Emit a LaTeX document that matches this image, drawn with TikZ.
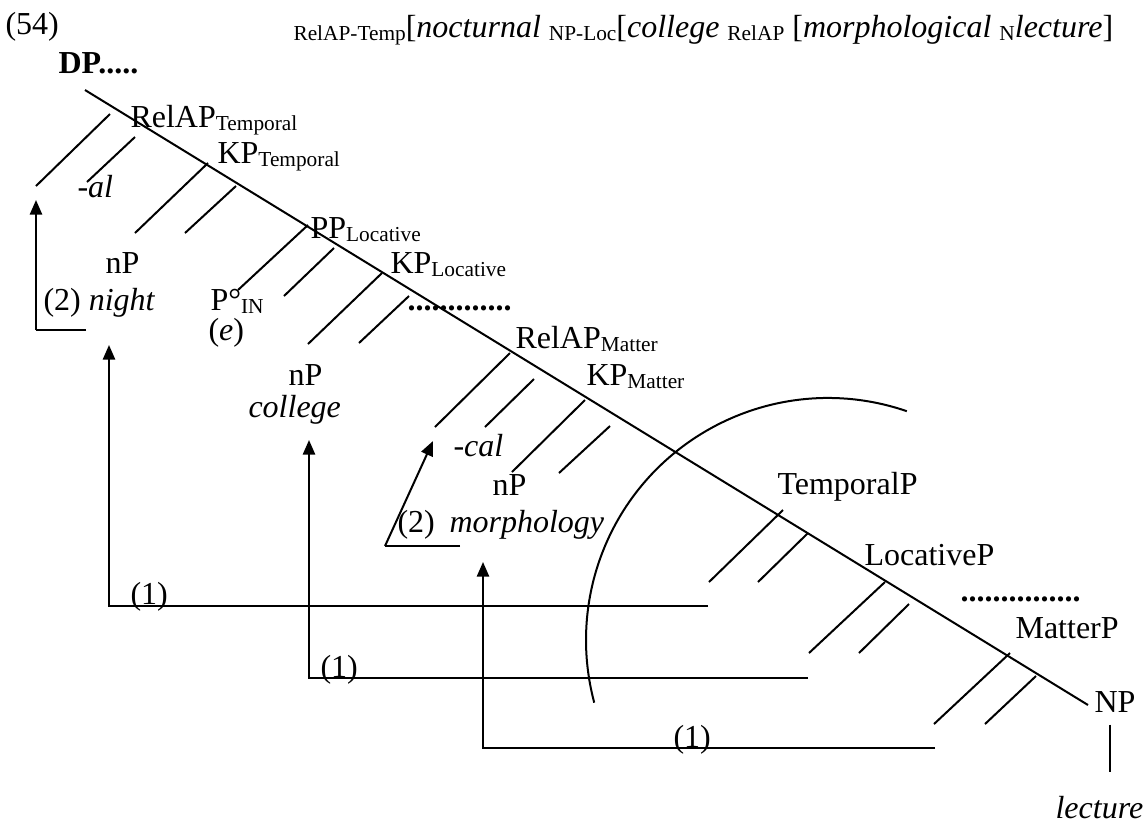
\documentclass[tikz,border=0pt]{standalone}
\usepackage{fontspec}
\setmainfont{Liberation Serif}
\usetikzlibrary{arrows.meta}
\newcommand{\sbs}[1]{\raisebox{-1.2pt}{\fontsize{8}{9}\selectfont #1}}
\begin{document}
\begin{tikzpicture}[x=0.375pt,y=-0.375pt,
  lbl/.style={anchor=base west, inner sep=0pt, font=\fontsize{12}{14}\selectfont},
  ln/.style={line width=0.75pt},
  arr/.style={line width=0.75pt,-{Triangle[length=5.5pt,width=4.6pt]}}]
\useasboundingbox (0,0) rectangle (1143,827);
% header
\node[lbl] (ex) at (5,34) {(54)};
\node[lbl] (gloss) at (293,37) {\sbs{RelAP-Temp}[\textit{nocturnal} \sbs{NP-Loc}[\textit{college} \sbs{RelAP} [\textit{morphological} \sbs{N}\textit{lecture}]};
\node[lbl,font=\fontsize{12}{14}\selectfont\bfseries] (dp) at (58,73) {DP.....};
% spine
\coordinate (s0) at (85,90);
\coordinate (s1) at (1088,705);
\draw[ln] (s0) -- (s1);
% labels along the spine
\node[lbl] (relapt) at (130,127) {RelAP\sbs{Temporal}};
\node[lbl] (kpt) at (217,163) {KP\sbs{Temporal}};
\node[lbl] (ppl) at (310,238) {PP\sbs{Locative}};
\node[lbl] (kpl) at (390,273) {KP\sbs{Locative}};
\node[lbl,font=\fontsize{12}{14}\selectfont\bfseries] (dots1) at (407,310) {.............};
\node[lbl] (relapm) at (515,348) {RelAP\sbs{Matter}};
\node[lbl] (kpm) at (586,385) {KP\sbs{Matter}};
\node[lbl] (tempp) at (777,494) {TemporalP};
\node[lbl] (locp) at (864,565) {LocativeP};
\node[lbl,font=\fontsize{12}{14}\selectfont\bfseries] (dots2) at (960,601) {...............};
\node[lbl] (matp) at (1015,638) {MatterP};
\node[lbl] (np) at (1094,712) {NP};
\node[lbl] (lect) at (1055,818) {\textit{lecture}};
\draw[ln] (np.south -| 1110,0) ++(0,12) coordinate (v0) -- (1110,772) coordinate (v1);
% left side labels
\node[lbl] (al) at (77,197) {\textit{-al}};
\node[lbl] (np1) at (105,273) {nP};
\node[lbl] (night) at (43,310) {(2) \textit{night}};
\node[lbl] (pin) at (210,310) {P°\sbs{IN}};
\node[lbl] (e) at (208,340) {(\textit{e})};
\node[lbl] (np2) at (288,385) {nP};
\node[lbl] (coll) at (248,417) {\textit{college}};
\node[lbl] (cal) at (453,456) {\textit{-cal}};
\node[lbl] (np3) at (492,495) {nP};
\node[lbl] (morph) at (397,532) {(2)\hspace{2.5pt} \textit{morphology}};
\node[lbl] (one1) at (130,604) {(1)};
\node[lbl] (one2) at (320,677) {(1)};
\node[lbl] (one3) at (673,747) {(1)};
% branch ticks
\draw[ln] (110,114) -- (36,186);
\draw[ln] (135,137) -- (87,182);
\draw[ln] (208,163) -- (135,233);
\draw[ln] (236,186) -- (185,233);
\draw[ln] (308,225) -- (238,290);
\draw[ln] (334,248) -- (284,296);
\draw[ln] (382,273) -- (308,344);
\draw[ln] (409,296) -- (359,343);
\draw[ln] (510,353) -- (435,427);
\draw[ln] (534,379) -- (485,427);
\draw[ln] (585,400) -- (512,472);
\draw[ln] (610,426) -- (559,473);
\draw[ln] (783,510) -- (709,582);
\draw[ln] (808,533) -- (758,582);
\draw[ln] (885,582) -- (809,653);
\draw[ln] (909,604) -- (859,653);
\draw[ln] (1010,653) -- (934,724);
\draw[ln] (1036,676) -- (985,724);
% arc
\draw[ln] (828,640) ++(-71:242) arc[start angle=-71,end angle=-195,radius=242];
% movement (2)
\draw[ln] (86,330) -- (36,330);
\draw[arr] (36,330) -- (36,200);
\draw[ln] (460,546) -- (385,546);
\draw[arr] (385,546) -- (433,441);
% movement (1)
\draw[arr] (708,606) -- (109,606) -- (109,345);
\draw[arr] (808,678) -- (309,678) -- (309,440);
\draw[arr] (935,748) -- (483,748) -- (483,562);
\end{tikzpicture}
\end{document}
